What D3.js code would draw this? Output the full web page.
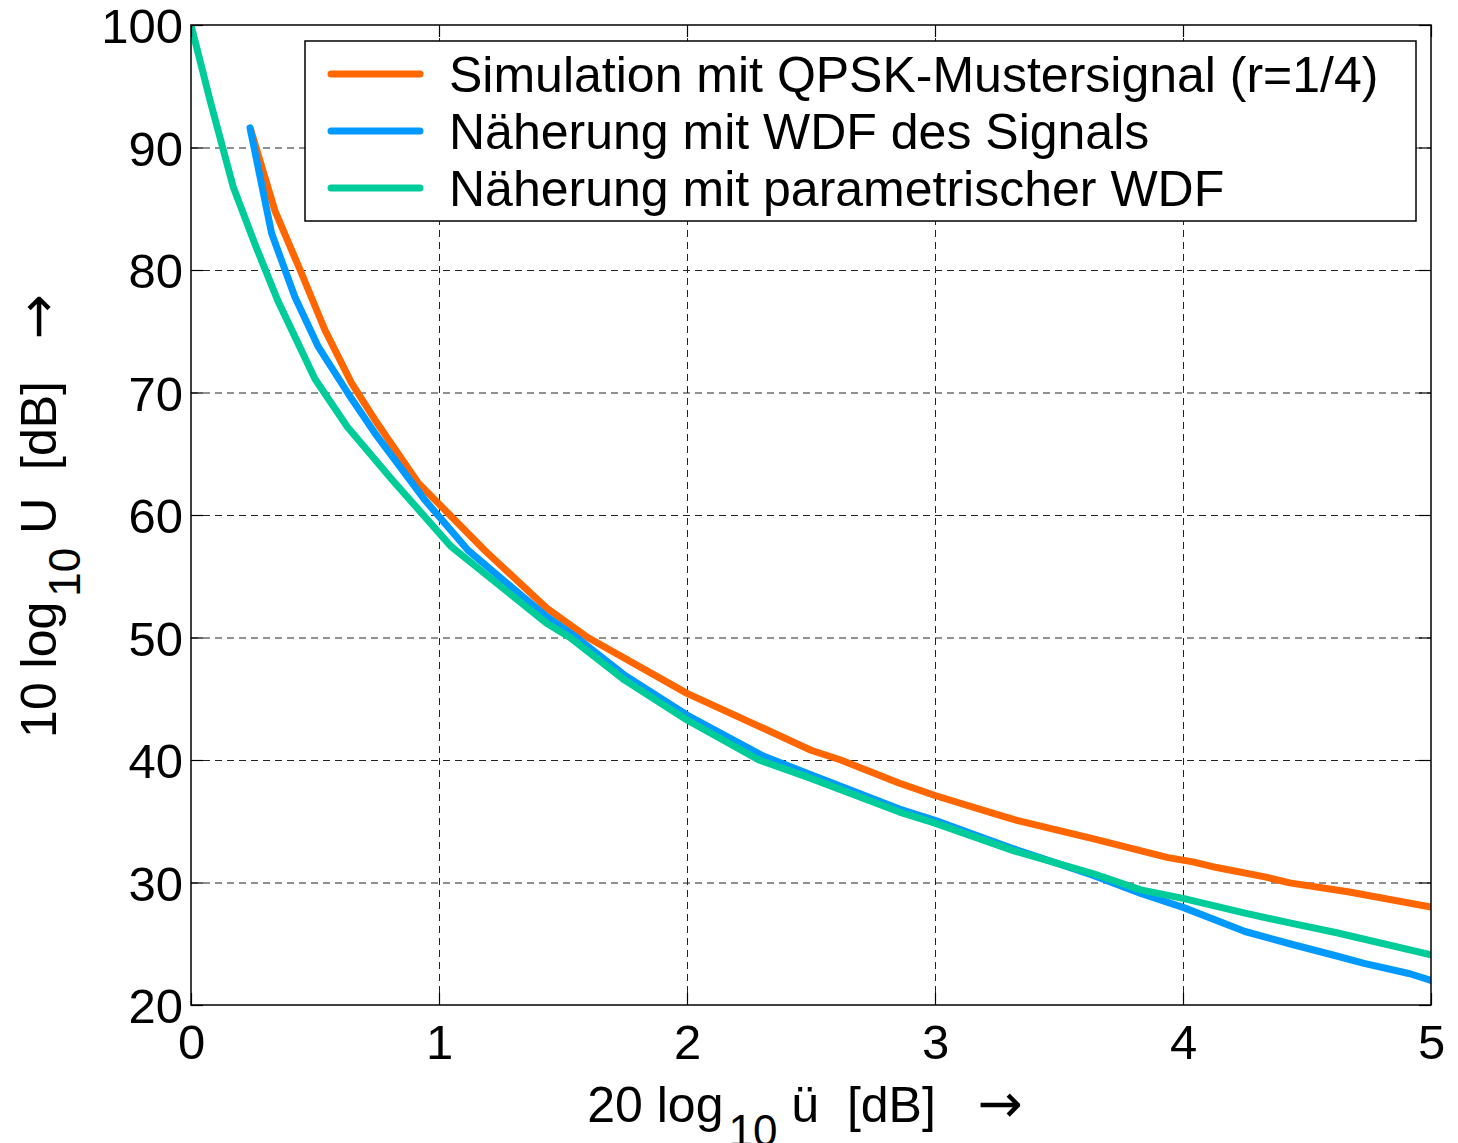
<!DOCTYPE html>
<meta charset="utf-8">
<title>Unsicherheit über Übersteuerung</title>
<style>
body { margin: 0; background: #fff; }
svg { font-family: Arial, "Liberation Sans", sans-serif; }
.grid line { stroke: #222; stroke-width: 1; stroke-dasharray: 7,5; }
.grid path { display: none; }
.ticks text { font-size: 49px; fill: #000; }
.ticks path { display: none; }
.ticks line { stroke: #000; stroke-width: 1.2; }
.curve { fill: none; stroke-width: 7; stroke-linejoin: round; stroke-linecap: round; }
.legend text { font-size: 50px; }
.label { font-size: 50px; white-space: pre; }
.arrow { font-family: "DejaVu Sans", sans-serif; font-size: 54px; }
</style>
<svg width="1458" height="1143"></svg>
<script src="https://d3js.org/d3.v7.min.js"></script>
<script>
// x: 20 log10 ü [dB], y: 10 log10 U [dB]
var simX = [0.24, 0.339, 0.44, 0.54, 0.648, 0.742, 0.917, 1.185, 1.434, 1.6, 2.0, 2.308, 2.5, 2.62, 2.857, 3.0, 3.232, 3.33, 3.636, 3.94, 4.04, 4.136, 4.33, 4.43, 4.665, 5.0]
var simY = [91.5, 84.8, 80.0, 75.1, 70.75, 67.76, 62.6, 57.1, 52.4, 50.0, 45.44, 42.59, 40.8, 40.0, 38.1, 37.1, 35.66, 35.07, 33.58, 32.03, 31.68, 31.22, 30.46, 29.97, 29.24, 28.0]

var wdfX = [0.238, 0.325, 0.419, 0.513, 0.634, 0.742, 0.944, 1.118, 1.434, 1.555, 1.75, 2.0, 2.31, 2.5, 2.857, 3.0, 3.316, 3.636, 3.83, 4.0, 4.25, 4.43, 4.62, 4.73, 4.915, 5.0]
var wdfY = [91.6, 83.0, 77.8, 73.74, 69.9, 66.67, 61.2, 57.1, 51.7, 50.0, 46.9, 43.67, 40.3, 38.8, 36.0, 35.07, 32.76, 30.6, 29.1, 27.97, 26.0, 25.0, 24.0, 23.4, 22.55, 22.0]

var parX = [0, 0.08, 0.17, 0.26, 0.35, 0.5, 0.63, 0.81, 1.05, 1.434, 1.528, 1.75, 2.0, 2.29, 2.5, 2.857, 3.0, 3.316, 3.636, 3.83, 4.0, 4.25, 4.43, 4.62, 5.0]
var parY = [100, 93.6, 86.8, 82.0, 77.5, 71.1, 67.2, 62.9, 57.4, 51.16, 50.0, 46.5, 43.27, 40.0, 38.5, 35.75, 34.85, 32.6, 30.73, 29.4, 28.7, 27.5, 26.7, 25.9, 24.1]

var seriesNames = ["Simulation mit QPSK-Mustersignal (r=1/4)", "Näherung mit WDF des Signals", "Näherung mit parametrischer WDF"]
var seriesColors = ["#ff6600", "#0099ff", "#00cc99"]
var xTicks = [0, 1, 2, 3, 4, 5]
var yTicks = [20, 30, 40, 50, 60, 70, 80, 90, 100]

var svg = d3.select("svg")
var pLeft = 191, pTop = 25, pRight = 1431, pBottom = 1005
var w = pRight - pLeft, h = pBottom - pTop

var x = d3.scaleLinear().domain([0, 5]).range([pLeft, pRight])
var y = d3.scaleLinear().domain([20, 100]).range([pBottom, pTop])

// grid
svg.append("g").attr("class", "grid")
	.attr("transform", "translate(0," + pBottom + ")")
	.call(d3.axisBottom(x).tickValues(xTicks.slice(1, -1)).tickSize(-h).tickFormat(""))
svg.append("g").attr("class", "grid")
	.attr("transform", "translate(" + pLeft + ",0)")
	.call(d3.axisLeft(y).tickValues(yTicks.slice(1, -1)).tickSize(-w).tickFormat(""))

// curves
var clip = svg.append("clipPath").attr("id", "plotclip")
clip.append("rect").attr("x", pLeft).attr("y", pTop).attr("width", w).attr("height", h)

var line = d3.line().x(function(d) { return x(d[0]) }).y(function(d) { return y(d[1]) })
var series = [d3.zip(simX, simY), d3.zip(wdfX, wdfY), d3.zip(parX, parY)]
var curves = svg.append("g").attr("clip-path", "url(#plotclip)")
series.forEach(function(s, i) {
	curves.append("path").attr("class", "curve")
		.attr("d", line(s))
		.attr("stroke", seriesColors[i])
})

// axes with inner ticks
svg.append("g").attr("class", "ticks")
	.attr("transform", "translate(0," + pBottom + ")")
	.call(d3.axisBottom(x).tickValues(xTicks).tickSize(-12).tickPadding(19).tickFormat(d3.format("d")))
svg.append("g").attr("class", "ticks")
	.attr("transform", "translate(" + pLeft + ",0)")
	.call(d3.axisLeft(y).tickValues(yTicks).tickSize(-12).tickPadding(8).tickFormat(d3.format("d")))
	.selectAll("text").attr("dy", "0.36em")
svg.append("g").attr("class", "ticks")
	.attr("transform", "translate(0," + pTop + ")")
	.call(d3.axisTop(x).tickValues(xTicks).tickSize(-12).tickFormat(""))
svg.append("g").attr("class", "ticks")
	.attr("transform", "translate(" + pRight + ",0)")
	.call(d3.axisRight(y).tickValues(yTicks).tickSize(-12).tickFormat(""))

svg.append("rect")
	.attr("x", pLeft).attr("y", pTop).attr("width", w).attr("height", h)
	.attr("fill", "none").attr("stroke", "#000").attr("stroke-width", 1.5)

// legend
var legend = svg.append("g").attr("class", "legend")
legend.append("rect")
	.attr("x", 305).attr("y", 41).attr("width", 1111).attr("height", 180)
	.attr("fill", "#fff").attr("stroke", "#000").attr("stroke-width", 1.5)
seriesNames.forEach(function(name, i) {
	var ly = 74 + i * 57
	legend.append("line")
		.attr("x1", 331).attr("x2", 420).attr("y1", ly).attr("y2", ly)
		.attr("stroke", seriesColors[i]).attr("stroke-width", 7).attr("stroke-linecap", "round")
	legend.append("text")
		.attr("x", 449).attr("y", ly).attr("dy", "0.36em")
		.text(name)
})

// axis labels
function axisLabel(sel, head, tail) {
	sel.append("tspan").text(head)
	sel.append("tspan").attr("dx", 5).attr("dy", 24).attr("font-size", 44).text("10")
	sel.append("tspan").attr("dy", -24).text(tail)
	sel.append("tspan").attr("class", "arrow").text("→")
}
var xl = svg.append("text").attr("class", "label")
	.attr("x", 805).attr("y", 1122).attr("text-anchor", "middle")
axisLabel(xl, "20 log", " ü  [dB]   ")

var yl = svg.append("text").attr("class", "label")
	.attr("transform", "translate(56,516) rotate(-90)")
	.attr("text-anchor", "middle")
axisLabel(yl, "10 log", " U  [dB]   ")
</script>
